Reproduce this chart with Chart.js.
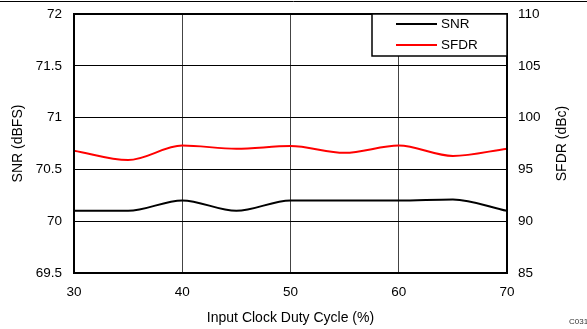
<!DOCTYPE html>
<html lang="en">
<head>
    <meta charset="UTF-8">
    <title>SNR and SFDR vs Input Clock Duty Cycle</title>
    <script src="https://cdn.jsdelivr.net/npm/chart.js"></script>
    <style>
        html, body { margin: 0; padding: 0; background: #fff; }
        #wrap { width: 587px; height: 329px; }
    </style>
</head>
<body>
    <div id="wrap"><canvas id="chart" width="587" height="329"></canvas></div>
    <script>
        // Data
        const dutyCycle = [30, 35, 40, 45, 50, 55, 60, 65, 70];
        const snr = [70.1, 70.1, 70.2, 70.1, 70.2, 70.2, 70.2, 70.21, 70.1];
        const sfdr = [96.8, 95.9, 97.3, 97.0, 97.25, 96.6, 97.3, 96.3, 97.0];
        const xTicks = [30, 40, 50, 60, 70];
        const snrTicks = [69.5, 70, 70.5, 71, 71.5, 72];
        const sfdrTicks = [85, 90, 95, 100, 105, 110];

        const FONT = 'Liberation Sans, Arial, sans-serif';

        function toPoints(xs, ys) {
            return xs.map((x, i) => ({ x: x, y: ys[i] }));
        }

        // Frame, legend box, right title and figure id
        const extras = {
            id: 'extras',
            afterDraw(chart) {
                const c = chart.ctx;
                const a = chart.chartArea;
                c.save();

                // page rule at top
                c.strokeStyle = '#000';
                c.lineWidth = 1;
                c.beginPath();
                c.moveTo(0, 1.5);
                c.lineTo(587, 1.5);
                c.stroke();

                // plot frame
                c.lineWidth = 2;
                c.strokeRect(a.left, a.top, a.right - a.left, a.bottom - a.top);

                // legend
                const lx = 372, ly = a.top, lw = a.right - lx, lh = 42;
                c.fillStyle = '#fff';
                c.fillRect(lx, ly, lw, lh);
                c.lineWidth = 1.5;
                c.strokeRect(lx, ly, lw, lh);
                c.font = '13.5px ' + FONT;
                c.textBaseline = 'middle';
                c.textAlign = 'left';
                chart.data.datasets.forEach((ds, i) => {
                    const y = ly + 10 + i * 21;
                    c.strokeStyle = ds.borderColor;
                    c.lineWidth = 2;
                    c.beginPath();
                    c.moveTo(396, y);
                    c.lineTo(437, y);
                    c.stroke();
                    c.fillStyle = '#000';
                    c.fillText(ds.label, 441, y);
                });

                // right axis title, reading bottom to top
                c.translate(562, (a.top + a.bottom) / 2);
                c.rotate(-Math.PI / 2);
                c.textAlign = 'center';
                c.font = '14px ' + FONT;
                c.fillStyle = '#000';
                c.fillText('SFDR (dBc)', 0, 0);
                c.restore();

                c.save();
                c.font = '8px ' + FONT;
                c.fillStyle = '#333';
                c.textBaseline = 'middle';
                c.fillText('C031', 569, 322);
                c.restore();
            }
        };

        const plainTick = v => String(v);

        const chart = new Chart(document.getElementById('chart'), {
            type: 'line',
            data: {
                datasets: [{
                    label: 'SNR',
                    data: toPoints(dutyCycle, snr),
                    yAxisID: 'ySnr',
                    borderColor: '#000000',
                    borderWidth: 2,
                    pointRadius: 0,
                    cubicInterpolationMode: 'monotone'
                }, {
                    label: 'SFDR',
                    data: toPoints(dutyCycle, sfdr),
                    yAxisID: 'ySfdr',
                    borderColor: '#ff0000',
                    borderWidth: 2,
                    pointRadius: 0,
                    cubicInterpolationMode: 'monotone'
                }]
            },
            options: {
                responsive: false,
                animation: false,
                layout: { padding: { top: 14, left: 0, right: 0, bottom: 0 } },
                plugins: {
                    legend: { display: false },
                    tooltip: { enabled: false }
                },
                scales: {
                    x: {
                        type: 'linear',
                        min: 30,
                        max: 70,
                        afterBuildTicks: s => { s.ticks = xTicks.map(v => ({ value: v })); },
                        afterFit: s => { s.height = 56; s.paddingLeft = 0; s.paddingRight = 0; },
                        grid: { color: '#444', lineWidth: 1, drawTicks: false },
                        border: { display: false },
                        ticks: { color: '#000', padding: 11, callback: plainTick, font: { family: FONT, size: 13.5 } },
                        title: {
                            display: true,
                            text: 'Input Clock Duty Cycle (%)',
                            color: '#000',
                            font: { family: FONT, size: 14 },
                            padding: { top: 0, bottom: 2 }
                        }
                    },
                    ySnr: {
                        position: 'left',
                        min: 69.5,
                        max: 72,
                        afterBuildTicks: s => { s.ticks = snrTicks.map(v => ({ value: v })); },
                        afterFit: s => { s.width = 74; s.paddingTop = 0; s.paddingBottom = 0; },
                        grid: { color: '#000', lineWidth: 1, drawTicks: false },
                        border: { display: false },
                        ticks: { color: '#000', padding: 12, callback: plainTick, font: { family: FONT, size: 13.5 } },
                        title: {
                            display: true,
                            text: 'SNR (dBFS)',
                            color: '#000',
                            font: { family: FONT, size: 14 },
                            padding: { top: 10, bottom: 0 }
                        }
                    },
                    ySfdr: {
                        position: 'right',
                        min: 85,
                        max: 110,
                        afterBuildTicks: s => { s.ticks = sfdrTicks.map(v => ({ value: v })); },
                        afterFit: s => { s.width = 80; s.paddingTop = 0; s.paddingBottom = 0; },
                        grid: { display: false, drawTicks: false },
                        border: { display: false },
                        ticks: { color: '#000', padding: 11, callback: plainTick, font: { family: FONT, size: 13.5 } }
                    }
                }
            },
            plugins: [extras]
        });
    </script>
</body>
</html>
